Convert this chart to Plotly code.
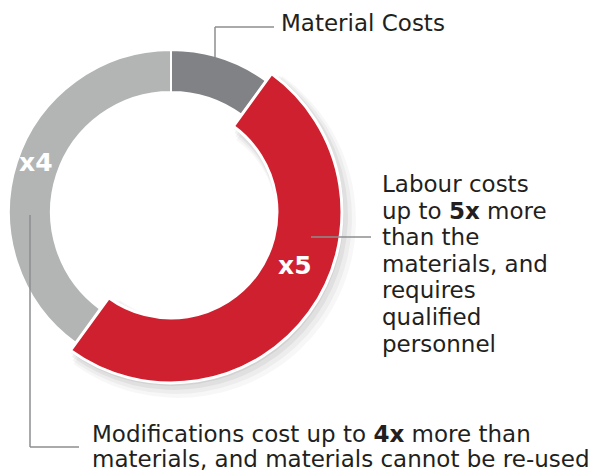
import plotly.graph_objects as go

W, H = 603, 471

# ---- data ----
categories = ["Material Costs", "Labour", "Modifications"]
values = [1, 5, 4]
slice_colors = ["#808285", "#cf202f", "#b3b5b5"]
multiplier_labels = ["x5", "x4"]
material_label = "Material Costs"
labour_lines = ["Labour costs", "up to <b>5x</b> more", "than the", "materials, and",
                "requires", "qualified", "personnel"]
modif_lines = ["Modifications cost up to <b>4x</b> more than",
               "materials, and materials cannot be re-used"]

FONT = "DejaVu Sans"
TXT = "#231f20"
LEADER = "#8d8e90"
TRANSP = "rgba(0,0,0,0)"


def fx(x):
    return x / W


def fy(y):
    return 1 - y / H


def domain(cx, cy, r):
    return dict(x=[fx(cx - r), fx(cx + r)], y=[fy(cy + r), fy(cy - r)])


CX, CY = 171, 212
R_GRAY, R_GRAY_IN = 162, 120
R_RED, R_RED_IN = 171, 106

fig = go.Figure()

# soft shadow under the red slice
for g, a in [(7, 0.03), (5, 0.04), (3, 0.05), (1, 0.06)]:
    fig.add_trace(go.Pie(
        labels=categories, values=values, sort=False, direction="clockwise", rotation=0,
        domain=domain(CX + g, CY + g + 1, R_RED + g), hole=(R_RED_IN - g) / (R_RED + g),
        marker=dict(colors=[TRANSP, f"rgba(0,0,0,{a})", TRANSP], line=dict(width=0)),
        textinfo="none", hoverinfo="skip", showlegend=False))

# gray ring (material + modifications)
fig.add_trace(go.Pie(
    labels=categories, values=values, sort=False, direction="clockwise", rotation=0,
    domain=domain(CX, CY, R_GRAY), hole=R_GRAY_IN / R_GRAY,
    marker=dict(colors=[slice_colors[0], TRANSP, slice_colors[2]],
                line=dict(color="white", width=[2, 0, 2])),
    textinfo="none", hoverinfo="label", showlegend=False))

# red ring (labour)
fig.add_trace(go.Pie(
    labels=categories, values=values, sort=False, direction="clockwise", rotation=0,
    domain=domain(CX, CY, R_RED), hole=R_RED_IN / R_RED,
    marker=dict(colors=[TRANSP, slice_colors[1], TRANSP],
                line=dict(color="white", width=[0, 3, 0])),
    textinfo="none", hoverinfo="label", showlegend=False))

shapes = []


def seg(x0, y0, x1, y1):
    shapes.append(dict(type="line", xref="paper", yref="paper",
                       x0=fx(x0), y0=fy(y0), x1=fx(x1), y1=fy(y1),
                       line=dict(color=LEADER, width=1.5), layer="above"))


seg(215, 57, 215, 27)
seg(215, 27, 274, 27)
seg(311, 237, 371, 237)
seg(30, 215, 30, 447)
seg(30, 447, 79, 447)

ann = []
SIZE = 23


def text(x, y, t, size=SIZE, color=TXT, xanchor="left", bold=False):
    ann.append(dict(x=fx(x), y=fy(y), xref="paper", yref="paper", text=t,
                    showarrow=False, xanchor=xanchor, yanchor="middle",
                    font=dict(family=FONT, size=size, color=color,
                              weight=700 if bold else 400)))


text(279, 23, material_label)
for i, line in enumerate(labour_lines):
    text(380, 184 + i * 26.6, line)
text(90, 434, modif_lines[0])
text(90, 458.5, modif_lines[1])
text(295, 265.5, multiplier_labels[0], size=25, color="white", xanchor="center", bold=True)
text(36, 163, multiplier_labels[1], size=25, color="white", xanchor="center", bold=True)

fig.update_layout(width=W, height=H, margin=dict(l=0, r=0, t=0, b=0),
                  paper_bgcolor="white", plot_bgcolor="white",
                  shapes=shapes, annotations=ann, showlegend=False)

fig.write_html("out.html", config={"displayModeBar": False},
               post_script="document.body.style.margin='0';document.body.style.overflow='hidden';")
